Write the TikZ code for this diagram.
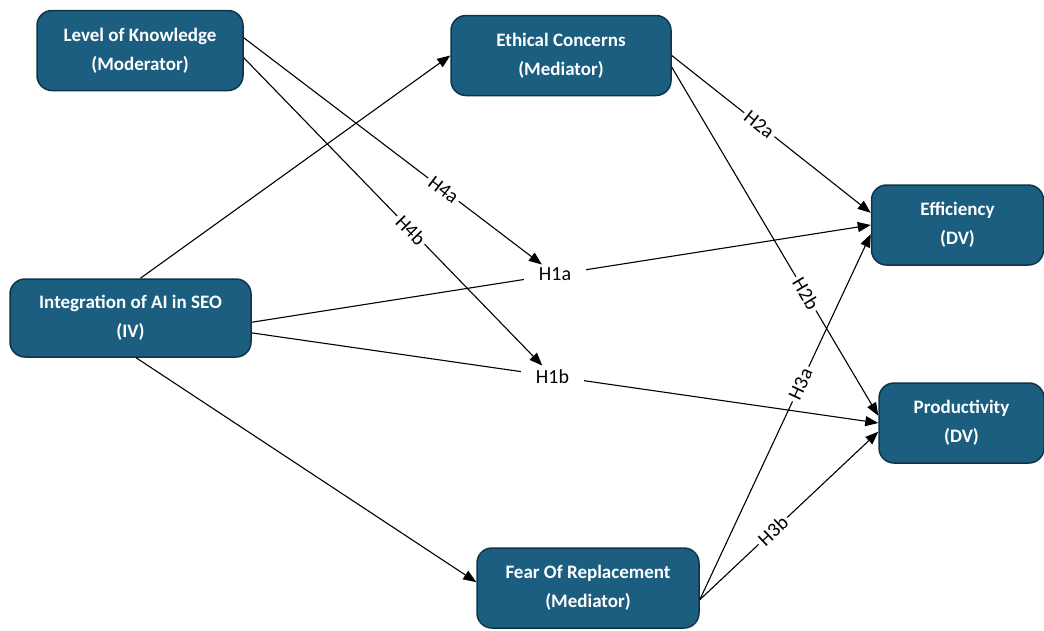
\documentclass[tikz,border=0pt]{standalone}
\usepackage{fontspec}
\setmainfont{Carlito}
\usetikzlibrary{arrows.meta}
\definecolor{boxblue}{HTML}{1B5E80}
\definecolor{boxedge}{HTML}{0E3547}

\begin{document}
\begin{tikzpicture}[x=1pt, y=-1pt,
    var/.style={draw=boxedge, line width=1.5pt, fill=boxblue, rounded corners=15pt, minimum width=#1, minimum height=80pt, align=center, text=white, font=\fontsize{19}{29}\selectfont\bfseries},
    hyp/.style={fill=white, inner sep=3pt, font=\fontsize{20}{22}\selectfont},
    arr/.style={-{Triangle[length=13pt, width=10pt]}, line width=1.1pt}
]
\useasboundingbox (0,0) rectangle (1044,630);
% variables
\node[var=206pt] (lok) at (140,50.5) {Level of Knowledge\\(Moderator)};
\node[var=220pt] (ec) at (561,55.5) {Ethical Concerns\\(Mediator)};
\node[var=241pt, minimum height=78pt] (iv) at (130.5,318) {Integration of AI in SEO\\(IV)};
\node[var=172pt] (eff) at (957.5,225) {Efficiency\\(DV)};
\node[var=165pt] (prod) at (961.5,423) {Productivity\\(DV)};
\node[var=222pt] (fear) at (588,588) {Fear Of Replacement\\(Mediator)};
% direct paths
\draw[arr] (iv.76) -- (ec.west);
\draw[arr] (iv.-2) -- node[hyp, inner xsep=15pt, pos=0.49] (h1a) {H1a} (eff.west);
\draw[arr] (iv.-7) -- node[hyp, inner xsep=15pt, pos=0.48] (h1b) {H1b} (prod.west);
\draw[arr] (iv.-82) -- (fear.177);
% moderation
\draw[arr] (lok.7) -- node[hyp, sloped, pos=0.67] {H4a} (h1a);
\draw[arr] (lok.-4) -- node[hyp, sloped, pos=0.56] {H4b} (h1b);
% mediators to outcomes
\draw[arr] (ec.east) -- node[hyp, sloped, pos=0.44] {H2a} (eff.172);
\draw[arr] (ec.-6) -- node[hyp, sloped, pos=0.65] {H2b} (prod.175);
\draw[arr] (fear.-6) -- node[hyp, sloped, pos=0.59] {H3a} (eff.186);
\draw[arr] (fear.-6) -- node[hyp, sloped, pos=0.41] {H3b} (prod.186);
\end{tikzpicture}
\end{document}
